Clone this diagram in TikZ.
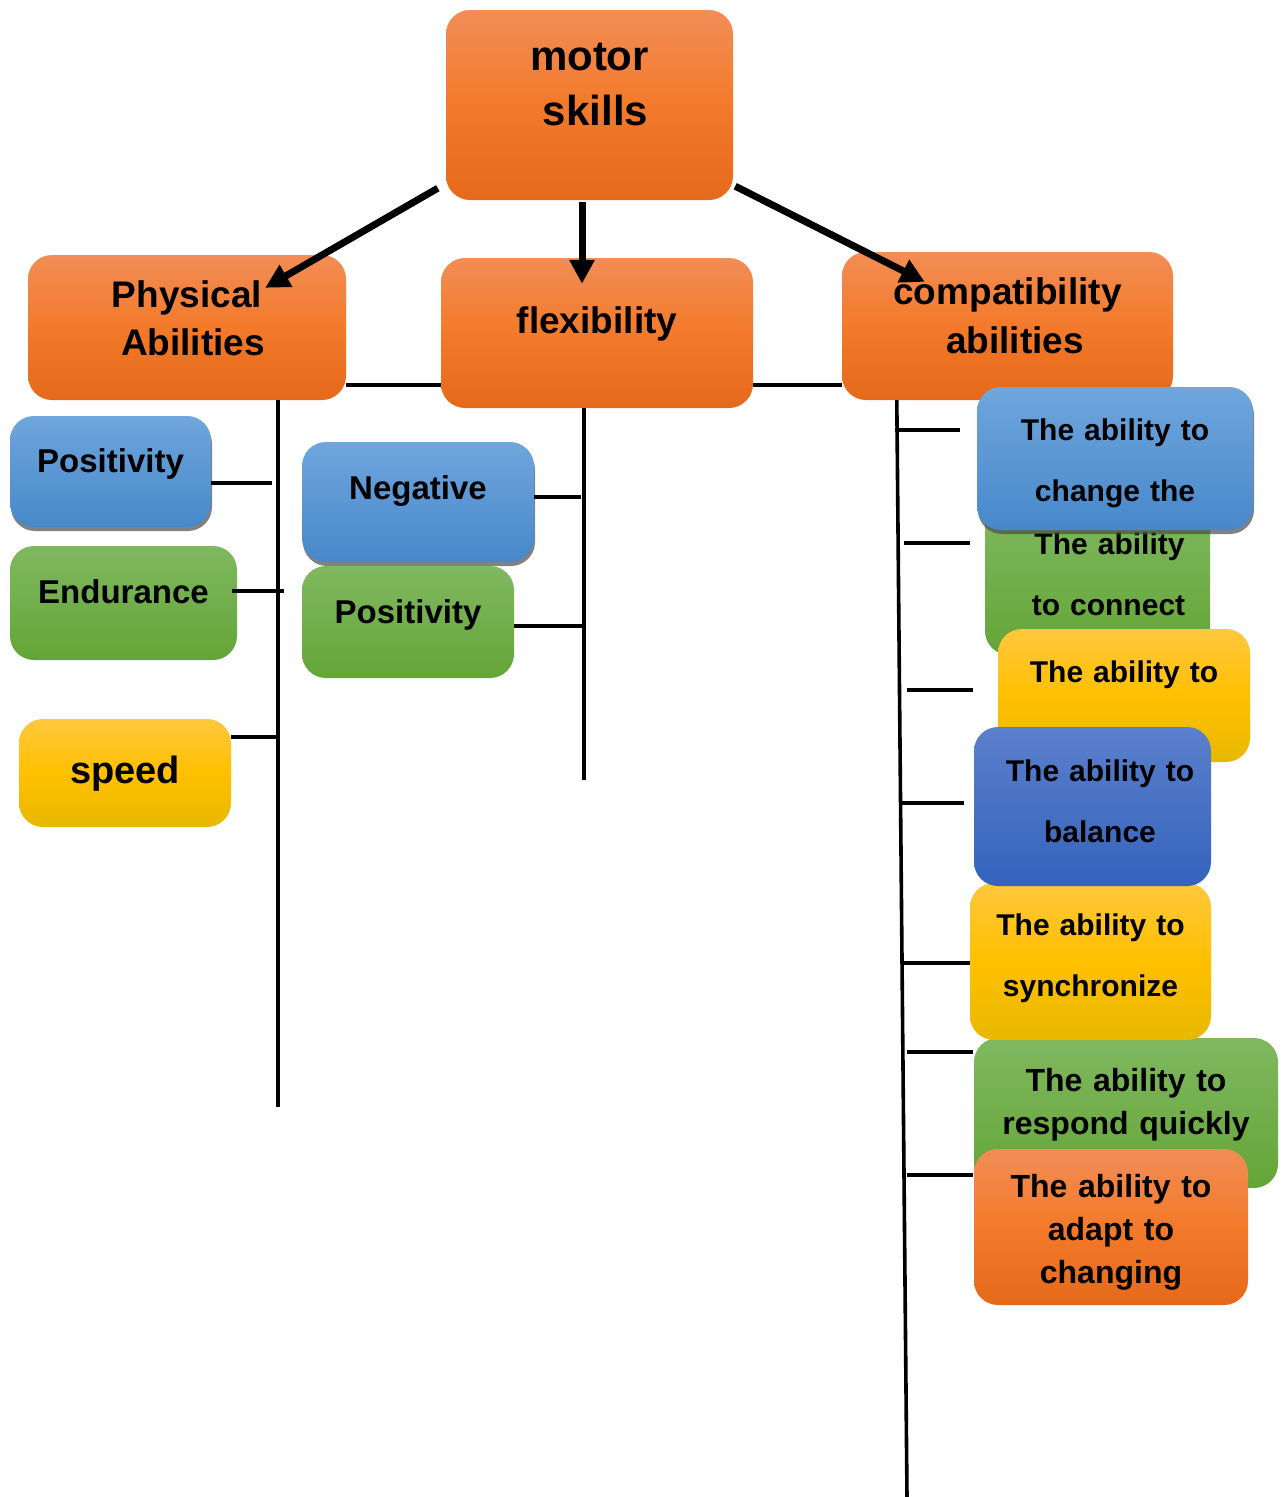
\documentclass[tikz,border=0pt]{standalone}
\usepackage{fontspec}
\setmainfont{Liberation Sans}
\usetikzlibrary{shapes,arrows.meta,positioning,calc,shadows}

\definecolor{orTop}{HTML}{F28D56}
\definecolor{orMid}{HTML}{F37A2A}
\definecolor{orBot}{HTML}{E5691A}
\definecolor{blTop}{HTML}{6FA6DD}
\definecolor{blBot}{HTML}{4788CA}
\definecolor{dbTop}{HTML}{5B80CC}
\definecolor{dbBot}{HTML}{3463BC}
\definecolor{grTop}{HTML}{80B860}
\definecolor{grBot}{HTML}{64A537}
\definecolor{yeTop}{HTML}{FFC73E}
\definecolor{yeMid}{HTML}{FFC000}
\definecolor{yeBot}{HTML}{E8B800}

\tikzset{
  box/.style={rectangle, rounded corners=24pt, inner sep=0pt, align=center, text=black},
  sz/.style 2 args={font=\bfseries\fontsize{#1}{#2}\selectfont},
  orangebox/.style={box, top color=orTop, bottom color=orBot, middle color=orMid},
  bluebox/.style={box, top color=blTop, bottom color=blBot,
    drop shadow={shadow xshift=1pt, shadow yshift=-4pt, fill=black!70, opacity=.7}},
  darkbluebox/.style={box, top color=dbTop, bottom color=dbBot},
  greenbox/.style={box, top color=grTop, bottom color=grBot},
  yellowbox/.style={box, top color=yeTop, bottom color=yeBot, middle color=yeMid},
  arr/.style={line width=7pt, -{Triangle[length=24pt,width=24pt]}},
  spine/.style={line width=3.6pt},
  tick/.style={line width=3.6pt}
}

\begin{document}
\begin{tikzpicture}[x=1pt, y=-1pt]
\useasboundingbox (0,0) rectangle (1284,1497);

% Top level
\node[orangebox, sz={42}{55}, text width=287pt, minimum height=190pt, text height=30pt, text depth=100pt] (motor) at (589.5,105) {motor\\\hspace*{12pt}skills};
\node[orangebox, sz={37}{48}, text width=318pt, minimum height=145pt, text height=26.6pt, text depth=67pt] (phys) at (187,327.5) {Physical\\\hspace*{12pt}Abilities};
\node[orangebox, sz={37}{48}, text width=312pt, minimum height=150pt, text height=26.6pt, text depth=26pt] (flex) at (597,333) {flexibility};
\node[orangebox, sz={37}{49}, text width=331pt, minimum height=148pt, text height=26.6pt, text depth=70pt] (comp) at (1007.5,326) {compatibility\\\hspace*{15pt}abilities};

% Physical abilities
\node[bluebox, sz={33}{40}, text width=201pt, minimum height=111pt, text height=23.8pt, text depth=22pt] (posL) at (110.5,471.5) {Positivity};
\node[greenbox, sz={33}{40}, text width=227pt, minimum height=114pt, text height=23.8pt, text depth=22pt] (endL) at (123.5,603) {Endurance};
\node[yellowbox, sz={38}{46}, text width=212pt, minimum height=108pt, text height=27.4pt, text depth=6pt] (spdL) at (125,773) {speed};

% Flexibility
\node[bluebox, sz={33}{40}, text width=232pt, minimum height=120pt, text height=23.8pt, text depth=28pt] (negM) at (418,502) {Negative};
\node[greenbox, sz={33}{40}, text width=212pt, minimum height=112pt, text height=23.8pt, text depth=20pt] (posM) at (408,622) {Positivity};

% Compatibility abilities
\node[greenbox, sz={30}{61}, text width=225pt, minimum height=155pt, text height=21.6pt, text depth=68pt] (greenA) at (1097.5,577.5) {\hspace*{24pt}The ability\\\hspace*{22pt}to connect};
\node[bluebox, sz={30}{61}, text width=276pt, minimum height=143pt, text height=21.6pt, text depth=57pt] (blueA) at (1115,458.5) {The ability to\\change the};
\node[yellowbox, sz={30}{61}, text width=252pt, minimum height=133pt, text height=21.6pt, text depth=47pt] (yellowA) at (1124,695.5) {The ability to};
\node[greenbox, sz={32}{43}, text width=304pt, minimum height=150pt, text height=23pt, text depth=66pt] (greenB) at (1126,1113) {The ability to\\respond quickly};
\node[yellowbox, sz={30}{61}, text width=241pt, minimum height=157pt, text height=21.6pt, text depth=73pt] (yellowB) at (1090.5,961.5) {The ability to\\synchronize};
\node[darkbluebox, sz={30}{61}, text width=237pt, minimum height=159pt, text height=21.6pt, text depth=71pt] (blueB) at (1092.5,806.5) {\hspace*{15pt}The ability to\\\hspace*{15pt}balance};
\node[orangebox, sz={32}{43}, text width=274pt, minimum height=156pt, text height=23pt, text depth=82pt] (orangeB) at (1111,1227) {The ability to\\adapt to\\changing};

% Arrows
\draw[arr] ($(motor.south west)+(-8,-12)$) -- ($(phys.north east)+(-81,33)$);
\draw[arr] ($(motor.south)+(-7.5,2)$) -- ($(flex.north)+(-15,26)$);
\draw[arr] ($(motor.south east)+(2,-14)$) -- ($(comp.north west)+(83,30)$);

% Links and spines
\draw[spine] (phys.east |- 0,385) -- (flex.west |- 0,385);
\draw[spine] (flex.east |- 0,385) -- (comp.west |- 0,385);
\coordinate (physEnd) at (278,1107);
\coordinate (flexEnd) at (584,780);
\coordinate (compEnd) at (907,1497);
\draw[spine] (phys.south -| physEnd) -- (physEnd);
\draw[spine] (flex.south -| flexEnd) -- (flexEnd);
\draw[spine] ($(comp.south west)+(55,0)$) -- (compEnd);

% Ticks
\draw[tick, shorten >=6pt] (posL.east |- 0,483) -- (physEnd |- 0,483);
\draw[tick, shorten <=-5pt, shorten >=-6pt] (endL.east |- 0,591) -- (physEnd |- 0,591);
\draw[tick] (spdL.east |- 0,737) -- (physEnd |- 0,737);
\draw[tick, shorten >=3pt] (negM.east |- 0,497) -- (flexEnd |- 0,497);
\draw[tick] (posM.east |- 0,626) -- (flexEnd |- 0,626);
\foreach \y/\xa/\nd/\gap in {430/895/blueA/17, 543/904/greenA/15, 690/907/yellowA/25,
    803/900/blueB/10, 963/904/yellowB/0, 1052/907/greenB/1, 1175/907/orangeB/1}
  \draw[tick, shorten >=\gap pt] (\xa,\y) -- (\nd.west |- 0,\y);
\end{tikzpicture}
\end{document}
